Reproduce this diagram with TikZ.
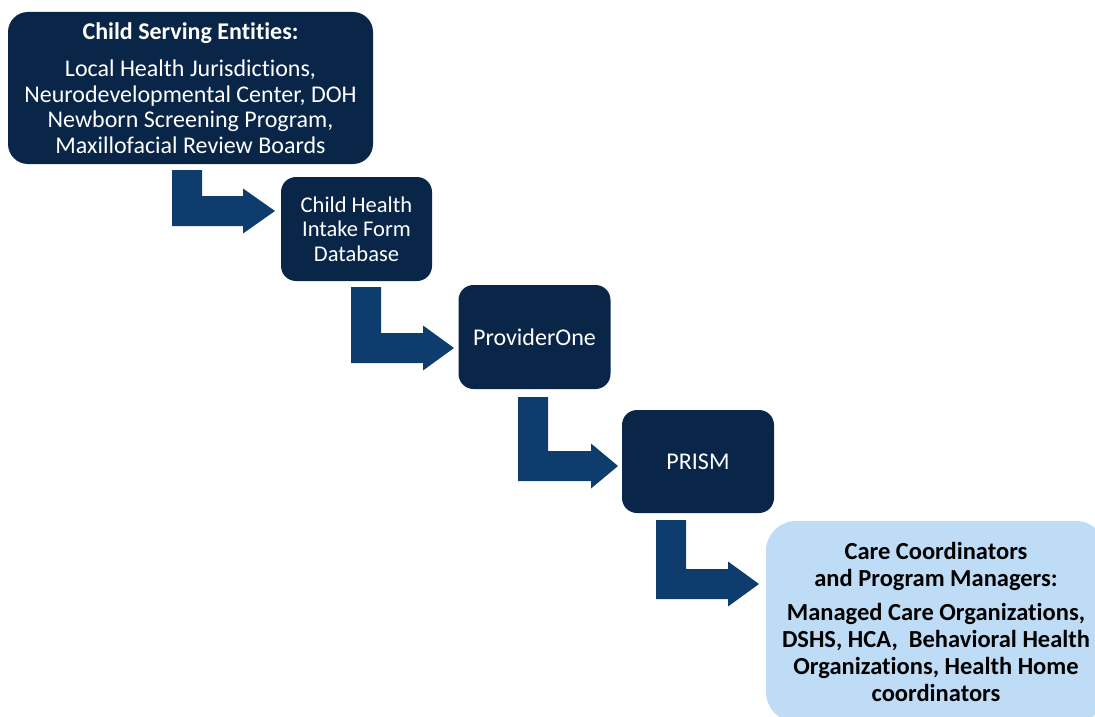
\documentclass[tikz,border=0pt]{standalone}
\usepackage{fontspec}
\setmainfont{Carlito}[Ligatures=NoCommon]
\definecolor{navy}{HTML}{092648}
\definecolor{arrowc}{HTML}{0E3C6C}
\definecolor{lightbox}{HTML}{BFDCF6}
\newcommand{\bentarrow}[5]{%
  \fill[arrowc] (#1,#2) -- ({#1+30},#2) -- ({#1+30},#3) -- (#4,#3) -- (#4,{#3-7.5})
    -- (#5,{#3+15}) -- (#4,{#3+37.5}) -- (#4,{#3+30}) -- (#1,{#3+30}) -- cycle;}
\begin{document}
\begin{tikzpicture}[x=1pt,y=-1pt,
  darkbox/.style={fill=navy, text=white, rounded corners=15pt, inner sep=0pt, align=center,
    font=\fontsize{24}{25.5}\selectfont},
  lbox/.style={fill=lightbox, text=black, rounded corners=30pt, inner sep=0pt, align=center,
    font=\fontsize{24.5}{27}\selectfont\bfseries}]
\useasboundingbox (0,0) rectangle (1095,717);
\clip (0,0) rectangle (1095,717);
\node[darkbox, rounded corners=20pt, minimum width=365pt, minimum height=152pt] (b1) at (190.5,88)
  {{\bfseries Child Serving Entities:}\\[12pt]Local Health Jurisdictions,\\Neurodevelopmental Center, DOH\\Newborn Screening Program,\\Maxillofacial Review Boards};
\node[darkbox, font=\fontsize{22.5}{24.5}\selectfont, minimum width=151pt, minimum height=104pt] (b2) at (356.5,229)
  {Child Health\\Intake Form\\Database};
\node[darkbox, minimum width=152pt, minimum height=104pt] (b3) at (534.5,337) {ProviderOne};
\node[darkbox, minimum width=152pt, minimum height=103pt] (b4) at (698,461.5) {PRISM};
\node[lbox, minimum width=340pt, minimum height=201pt] (b5) at (936,621.5)
  {Care Coordinators\\and Program Managers:\\[7pt]Managed Care Organizations,\\DSHS, HCA,\ \ Behavioral Health\\Organizations, Health Home\\coordinators};
\bentarrow{172}{170}{196}{243}{275}
\bentarrow{351}{287}{333}{423}{454}
\bentarrow{518}{397}{451}{591}{618}
\bentarrow{656}{520}{569}{728}{759}
\end{tikzpicture}
\end{document}
